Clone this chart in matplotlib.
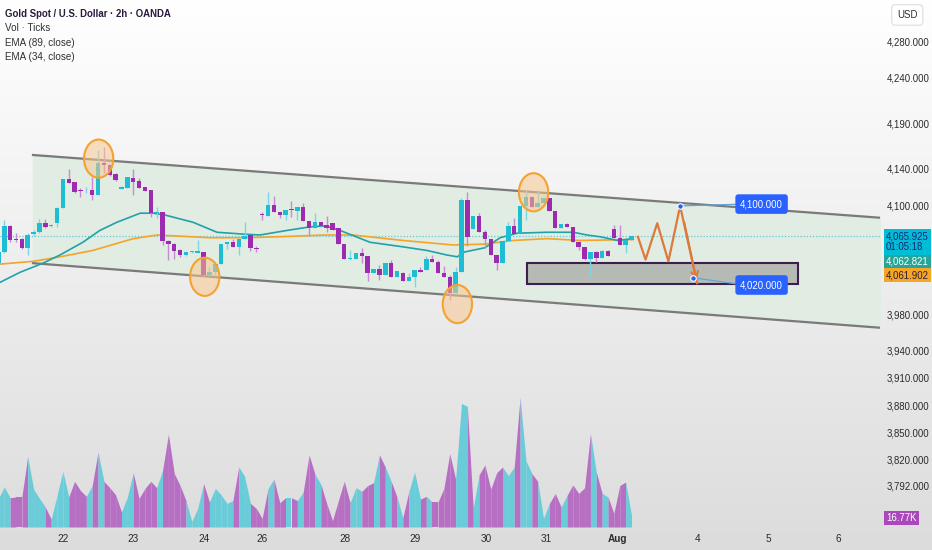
import matplotlib
matplotlib.use("Agg")
import matplotlib.pyplot as plt
import numpy as np
from matplotlib.patches import Ellipse, Rectangle
from matplotlib.ticker import FuncFormatter

# --- data (bar index, 2h bars) ---
bars = list(range(-1, 108))
opens = [4036, 4048, 4077, 4063, 4063, 4053, 4068, 4070, 4080, 4077, 4080, 4097, 4129, 4125, 4116, 4116,
         4116, 4111, 4146, 4144, 4134, 4118, 4119, 4130, 4126, 4120, 4116, 4091, 4092, 4060, 4057, 4051,
         4045, 4048, 4047, 4048, 4023, 4026, 4035, 4057, 4059, 4054, 4063, 4067, 4053, 4090, 4088, 4100,
         4092, 4089, 4096, 4093, 4098, 4082, 4075, 4081, 4078, 4080, 4075, 4057, 4041, 4041, 4047, 4044,
         4025, 4030, 4023, 4036, 4021, 4025, 4016, 4021, 4028, 4028, 4041, 4037, 4025, 4021, 4003, 4026,
         4106, 4074, 4088, 4070, 4063, 4045, 4036, 4060, 4077, 4068, 4099, 4109, 4098, 4102, 4108, 4093,
         4075, 4079, 4076, 4059, 4054, 4041, 4048, 4042, 4049, 4074, 4064, 4056, 4061]
highs = [4051, 4084, 4078, 4069, 4064, 4069, 4072, 4085, 4085, 4079, 4098, 4129, 4140, 4125, 4119, 4120,
         4131, 4161, 4164, 4144, 4135, 4121, 4131, 4140, 4130, 4120, 4116, 4098, 4092, 4061, 4058, 4052,
         4048, 4049, 4061, 4048, 4032, 4035, 4057, 4059, 4063, 4063, 4081, 4067, 4055, 4092, 4114, 4110,
         4092, 4094, 4104, 4098, 4102, 4082, 4091, 4081, 4088, 4080, 4075, 4057, 4050, 4047, 4053, 4044,
         4030, 4034, 4036, 4039, 4027, 4026, 4025, 4028, 4032, 4044, 4045, 4039, 4033, 4023, 4032, 4108,
         4114, 4088, 4091, 4072, 4063, 4045, 4060, 4081, 4086, 4099, 4116, 4109, 4116, 4108, 4108, 4093,
         4079, 4080, 4076, 4059, 4054, 4048, 4049, 4050, 4050, 4078, 4078, 4061, 4066]
lows = [4034, 4047, 4059, 4059, 4052, 4045, 4066, 4069, 4075, 4076, 4076, 4097, 4124, 4113, 4109, 4113,
        4105, 4111, 4135, 4132, 4126, 4118, 4119, 4111, 4119, 4115, 4087, 4086, 4056, 4039, 4041, 4043,
        4044, 4047, 4047, 4022, 4023, 4022, 4035, 4052, 4054, 4045, 4063, 4049, 4048, 4083, 4088, 4092,
        4086, 4083, 4087, 4083, 4082, 4066, 4075, 4076, 4070, 4072, 4057, 4041, 4039, 4041, 4036, 4016,
        4025, 4017, 4023, 4021, 4021, 4016, 4016, 4010, 4026, 4028, 4037, 4025, 4021, 3995, 4003, 4026,
        4055, 4074, 4070, 4053, 4045, 4028, 4036, 4060, 4068, 4068, 4083, 4098, 4098, 4102, 4093, 4075,
        4075, 4076, 4059, 4050, 4039, 4021, 4037, 4042, 4044, 4064, 4056, 4047, 4061]
closes = [4048, 4077, 4061, 4061, 4053, 4067, 4070, 4080, 4076, 4078, 4097, 4129, 4124, 4114, 4115, 4117,
          4111, 4146, 4144, 4133, 4128, 4120, 4131, 4125, 4119, 4115, 4091, 4092, 4060, 4057, 4049, 4045,
          4048, 4049, 4049, 4023, 4026, 4035, 4057, 4059, 4054, 4063, 4066, 4053, 4052, 4089, 4100, 4092,
          4089, 4094, 4095, 4098, 4082, 4075, 4081, 4077, 4075, 4072, 4057, 4041, 4042, 4047, 4044, 4025,
          4030, 4023, 4036, 4021, 4027, 4016, 4021, 4028, 4026, 4041, 4037, 4025, 4021, 4003, 4026, 4106,
          4065, 4088, 4070, 4063, 4045, 4036, 4060, 4077, 4068, 4099, 4109, 4098, 4102, 4108, 4093, 4075,
          4079, 4076, 4059, 4054, 4041, 4048, 4042, 4049, 4044, 4064, 4056, 4061, 4065.925]
volume_k = [40, 56, 41, 42, 42, 99, 53, 40, 28, 11, 44, 78, 42, 64, 51, 43, 58, 105, 64, 55, 45, 21, 42,
            76, 40, 54, 64, 55, 79, 130, 75, 58, 37, 8, 26, 61, 35, 54, 45, 33, 37, 84, 71, 33, 26, 12,
            54, 67, 34, 41, 41, 37, 49, 101, 74, 60, 33, 9, 37, 64, 34, 55, 50, 58, 62, 101, 84, 64, 42,
            13, 49, 77, 39, 43, 35, 35, 54, 103, 67, 173, 169, 26, 73, 87, 53, 76, 84, 72, 84, 182, 93,
            75, 64, 12, 33, 47, 28, 44, 59, 47, 55, 131, 77, 47, 42, 19, 58, 63, 16.77]

ema34_x = [-0.7, 2.7, 6.6, 9.5, 13.4, 16.3, 19.2, 23.2, 25.4, 27.4, 32.2, 36.3, 40.7, 43.6, 48.2, 52.2,
           54.7, 57.3, 62.4, 68.0, 72.1, 75.5, 77.3, 78.3, 82.0, 84.6, 87.5, 92.6, 97.1, 99.4, 101.7,
           104.6, 107.3]
ema34 = [4015, 4026, 4036, 4045, 4059, 4072, 4081, 4091, 4091, 4089, 4081, 4070, 4068, 4067, 4072, 4076,
         4077, 4072, 4059, 4054, 4050, 4045, 4043, 4048, 4053, 4064, 4069, 4070, 4070, 4067, 4065, 4061,
         4063]
ema89_x = [-0.7, 4.9, 9.5, 15.1, 22.0, 26.1, 35.1, 40.7, 46.5, 54.7, 59.5, 68.0, 76.6, 82.0, 86.8, 92.6,
           98.2, 107.3]
ema89 = [4035, 4038, 4043, 4050, 4063, 4067, 4064, 4064, 4065, 4067, 4067, 4061, 4056, 4057, 4061, 4063,
         4061, 4062]

# drawings
channel_x = [4.9, 149.4]
channel_upper = [4155, 4086]
channel_lower = [4036, 3965]
zone = [89.2, 135.4, 4013, 4036]          # x0, x1, low, high
circles = [(16.1, 4151), (34.2, 4021), (77.3, 3991), (90.3, 4114)]
zigzag_x = [108.1, 109.4, 111.4, 113.3, 115.3, 118.2]
zigzag_y = [4065, 4040, 4080, 4038, 4099, 4014]
targets = [(115.3, 4099, 129.2, 4101, "4,100.000"), (117.5, 4020, 129.2, 4012, "4,020.000")]
last_price = 4065.925

price_ticks = [4280, 4240, 4190, 4140, 4100, 3980, 3940, 3910, 3880, 3850, 3820, 3792]
day_pos = [10.0, 22.0, 34.1, 44.0, 58.1, 70.1, 82.2, 92.4, 104.6, 118.2, 130.3, 142.3]
day_labels = ["22", "23", "24", "26", "28", "29", "30", "31", "Aug", "4", "5", "6"]

UP, DOWN = "#1fbdd3", "#9c2bb0"
UP_WICK, DOWN_WICK = "#7fd6e3", "#c98bd3"
FONT = ["Liberation Sans", "DejaVu Sans"]
FS = 6.9

fig = plt.figure(figsize=(9.32, 5.5), dpi=100)

# soft vertical gradient background
bg = fig.add_axes([0, 0, 1, 1], zorder=-5)
grad = np.linspace(1.0, 0.0, 256).reshape(-1, 1)
bg.imshow(grad, aspect="auto", cmap=matplotlib.colors.LinearSegmentedColormap.from_list(
    "bg", ["#dcdcdc", "#ffffff"]), extent=[0, 1, 0, 1])
bg.axis("off")

ax = fig.add_axes([0, 23 / 550, 880 / 932, 527 / 550])
ax.set_facecolor("none")
ax.set_xlim(-0.73, 149.4)
ax.set_ylim(3745.8, 4325.5)

x = np.array(bars, dtype=float)
o, h, l, c = map(np.array, (opens, highs, lows, closes))
up = c >= o

# channel
ax.fill_between(channel_x, channel_lower, channel_upper, color="#e1ece3", zorder=1)
ax.plot(channel_x, channel_upper, color="#7a7a7a", lw=1.6, zorder=2)
ax.plot(channel_x, channel_lower, color="#7a7a7a", lw=1.6, zorder=2)

# zone rectangle
ax.add_patch(Rectangle((zone[0], zone[2]), zone[1] - zone[0], zone[3] - zone[2],
                       facecolor="#b6bab4", edgecolor="#3c1f4c", lw=1.5, zorder=2))

# current price line
ax.axhline(last_price, color="#5ec8d8", lw=0.9, ls=(0, (1, 1.5)), zorder=2)

# EMAs
ax.plot(ema89_x, ema89, color="#f5a425", lw=1.2, zorder=3)
ax.plot(ema34_x, ema34, color="#21a2a8", lw=1.2, zorder=3)

# candles
ax.vlines(x, l, h, colors=np.where(up, UP_WICK, DOWN_WICK), lw=1.0, zorder=4)
body = np.maximum(np.abs(c - o), 1.0)
ax.bar(x, body, bottom=np.minimum(o, c), width=0.76, color=np.where(up, UP, DOWN), zorder=5)

# circles around swing points
for cx, cy in circles:
    ax.add_patch(Ellipse((cx, cy), 5.0, 42, facecolor="#f7c68e", alpha=0.55, edgecolor="none", zorder=6))
    ax.add_patch(Ellipse((cx, cy), 5.0, 42, facecolor="none", edgecolor="#f4a230", lw=1.5, zorder=6))

# projected path
ax.plot(zigzag_x, zigzag_y, color="#dc7a3b", lw=1.6, zorder=6)
ax.annotate("", xy=(zigzag_x[-1], zigzag_y[-1]), xytext=(zigzag_x[-2] + 0.6, zigzag_y[-2] - 15),
            arrowprops=dict(arrowstyle="->", color="#dc7a3b", lw=1.5, mutation_scale=12), zorder=6)

for px, py, lx, ly, txt in targets:
    ax.plot([px, lx - 3], [py, ly], color="#5aa7d8", lw=0.9, zorder=6)
    ax.plot(px, py, "o", ms=4, color="#2a62f0", mec="white", mew=0.8, zorder=7)
    ax.text(lx, ly, txt, ha="center", va="center", fontsize=FS, color="white", family=FONT, zorder=8,
            bbox=dict(boxstyle="round,pad=0.5,rounding_size=0.3", fc="#2962ff", ec="none"))

# volume (separate overlay scale)
vax = ax.twinx()
vax.set_ylim(0, 738)
vol = np.array(volume_k)
for i in range(len(x) - 1):
    vax.fill_between(x[i:i + 2], 0, vol[i:i + 2], color="#69ccd8" if up[i] else "#b76fc4",
                     lw=0, zorder=1)
vax.set_yticks([])
for sp in vax.spines.values():
    sp.set_visible(False)

# axes styling
for sp in ax.spines.values():
    sp.set_visible(False)
ax.yaxis.tick_right()
ax.set_yticks(price_ticks)
ax.yaxis.set_major_formatter(FuncFormatter(lambda v, pos: f"{v:,.3f}"))
ax.tick_params(axis="y", length=0, pad=5, labelsize=FS, labelcolor="#2a2a2a")
ax.set_xticks(day_pos, day_labels)
ax.tick_params(axis="x", length=0, pad=5, labelsize=FS + 0.3, labelcolor="#2a2a2a")
for lab in ax.get_xticklabels() + ax.get_yticklabels():
    lab.set_family(FONT)
ax.get_xticklabels()[day_labels.index("Aug")].set_fontweight("bold")

# legend block, top-left
fig.text(5 / 932, 1 - 14 / 550, "Gold Spot / U.S. Dollar · 2h · OANDA", fontsize=FS, weight="bold",
         color="#2b1b3c", va="center", family=FONT)
for k, s in enumerate(["Vol · Ticks", "EMA (89, close)", "EMA (34, close)"]):
    fig.text(5 / 932, 1 - (28 + 14.5 * k) / 550, s, fontsize=FS + 0.2, color="#2f2f2f", va="center",
             family=FONT)

# right-scale badges
def badge(ypx, txt, fc, tc):
    fig.text(886 / 932, 1 - ypx / 550, txt, fontsize=FS, color=tc, va="center", ha="left",
             family=FONT, linespacing=1.05,
             bbox=dict(boxstyle="square,pad=0.25", fc=fc, ec="none"))

badge(242, "4,065.925\n01:05:18", "#00bcd4", "#16237a")
badge(262, "4,062.821", "#26a69a", "white")
badge(275, "4,061.902", "#f5a623", "#2b1b3c")
badge(518, "16.77K", "#ab47bc", "white")
fig.text(897 / 932, 1 - 15 / 550, "USD", fontsize=FS, color="#2f2f2f", va="center", family=FONT,
         bbox=dict(boxstyle="round,pad=0.55,rounding_size=0.4", fc="white", ec="#e3e3e3"))

fig.savefig("out.png", dpi=100)
